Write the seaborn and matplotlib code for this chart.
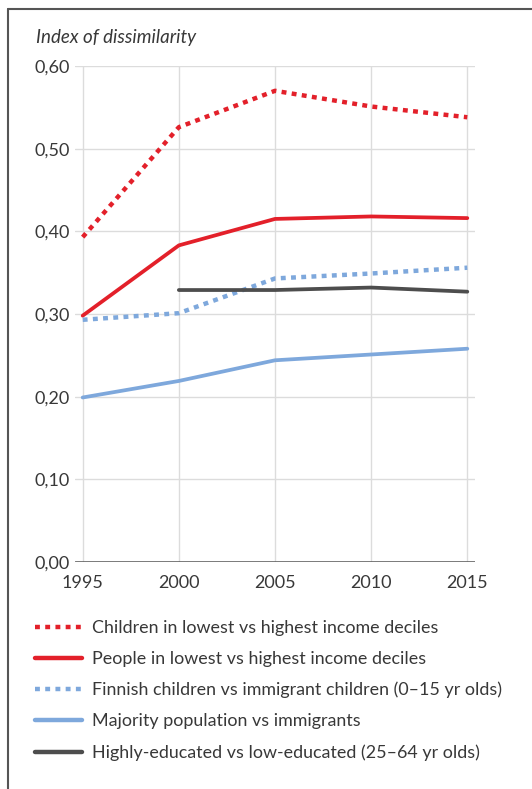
import pandas as pd
import numpy as np
import matplotlib
matplotlib.use("Agg")
import matplotlib.pyplot as plt
import matplotlib.ticker as mticker
from matplotlib.lines import Line2D
import seaborn as sns

# data
years = [1995, 2000, 2005, 2010, 2015]
children_income = [0.393, 0.526, 0.570, 0.551, 0.538]
people_income = [0.298, 0.383, 0.415, 0.418, 0.416]
finnish_children = [0.293, 0.301, 0.343, 0.349, 0.356]
majority_pop = [0.199, 0.219, 0.244, 0.251, 0.258]
educated = [np.nan, 0.329, 0.329, 0.332, 0.327]

labels = [
    "Children in lowest vs highest income deciles",
    "People in lowest vs highest income deciles",
    "Finnish children vs immigrant children (0\u201315 yr olds)",
    "Majority population vs immigrants",
    "Highly-educated vs low-educated (25\u201364 yr olds)",
]
series = [children_income, people_income, finnish_children, majority_pop, educated]
colors = ["#e3202a", "#e3202a", "#7ea8dc", "#7ea8dc", "#4d4d4d"]
dotted = [True, False, True, False, False]

rows = []
for lab, vals in zip(labels, series):
    for y, v in zip(years, vals):
        rows.append({"year": y, "value": v, "series": lab})
df = pd.DataFrame(rows)

sns.set_style("white")
plt.rcParams["font.family"] = ["Lato", "DejaVu Sans"]
text_col = "#383838"

fig = plt.figure(figsize=(5.32, 7.89), dpi=100)
ax = fig.add_axes([75 / 532, 1 - 562 / 789, 400 / 532, 496 / 789])

for i, lab in enumerate(labels):
    sub = df[df["series"] == lab].dropna()
    if dotted[i]:
        sns.lineplot(data=sub, x="year", y="value", ax=ax, color=colors[i],
                     linewidth=3.2, linestyle=(0, (1.1, 1.2)), dash_capstyle="butt",
                     zorder=3)
    else:
        sns.lineplot(data=sub, x="year", y="value", ax=ax, color=colors[i],
                     linewidth=2.7, zorder=3)

ax.set_xlim(1994.6, 2015.4)
ax.set_ylim(0, 0.60)
ax.set_xticks(years)
ax.set_yticks(np.arange(0, 0.61, 0.1))
ax.yaxis.set_major_formatter(mticker.FuncFormatter(lambda v, p: f"{v:.2f}".replace(".", ",")))
ax.grid(True, color="#dcdcdc", linewidth=1.0)
ax.axhline(0, color="#555555", linewidth=1.8, zorder=2)
for s in ax.spines.values():
    s.set_visible(False)
ax.tick_params(axis="both", length=0, labelsize=13, colors=text_col)
ax.tick_params(axis="x", pad=9)
ax.tick_params(axis="y", pad=4)
ax.set_xlabel("")
ax.set_ylabel("")
if ax.get_legend():
    ax.get_legend().remove()

fig.text(36 / 532, 1 - 38 / 789, "Index of dissimilarity", style="italic",
         fontsize=13.5, color=text_col, va="center", ha="left")

handles = []
for i in range(len(labels)):
    if dotted[i]:
        handles.append(Line2D([], [], color=colors[i], linewidth=3.2,
                              linestyle=(0, (1.1, 1.2)), dash_capstyle="butt"))
    else:
        handles.append(Line2D([], [], color=colors[i], linewidth=3.2))
fig.legend(handles, labels, loc="upper left", bbox_to_anchor=(28 / 532, 1 - 613 / 789),
           frameon=False, fontsize=12.9, handlelength=2.6, handletextpad=0.55,
           labelspacing=0.83, labelcolor=text_col, borderaxespad=0)

# frame lines at top and left
fig.add_artist(Line2D([8 / 532, 1], [1 - 9 / 789, 1 - 9 / 789], color="#555555",
                      linewidth=1.5, transform=fig.transFigure))
fig.add_artist(Line2D([8 / 532, 8 / 532], [0, 1 - 9 / 789], color="#555555",
                      linewidth=1.5, transform=fig.transFigure))

fig.savefig("out.png", dpi=100)
